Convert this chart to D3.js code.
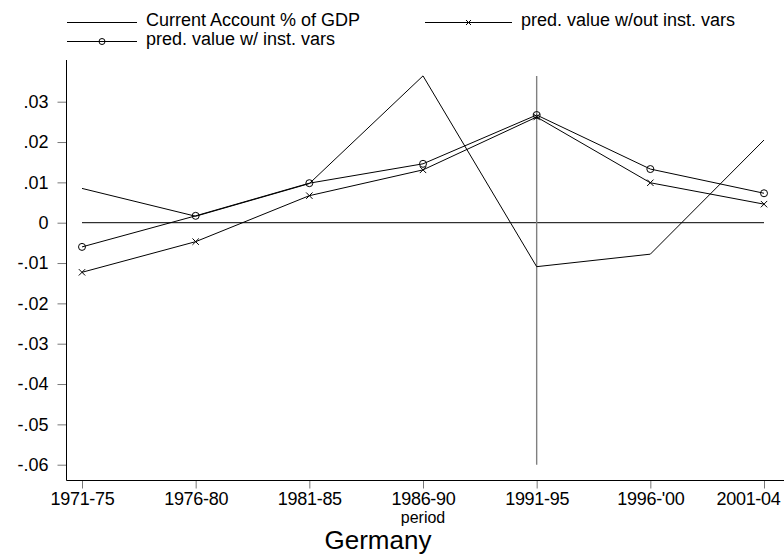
<!DOCTYPE html>
<html>
<head>
<meta charset="utf-8">
<script src="https://cdn.jsdelivr.net/npm/d3@7"></script>
<style>
  body { margin: 0; background: #fff; }
  text { font-family: Arial, "Liberation Sans", sans-serif; fill: #000; }
</style>
</head>
<body>
<div id="chart"></div>
<script>
// Data
const periods = ["1971-75", "1976-80", "1981-85", "1986-90", "1991-95", "1996-'00", "2001-04"];
const currentAccount = [0.0085, 0.0016, 0.0097, 0.0364, -0.0109, -0.0078, 0.0205];
const predNoInst = [-0.0123, -0.0047, 0.0067, 0.0131, 0.0262, 0.0099, 0.0046];
const predInst = [-0.0060, 0.0017, 0.0098, 0.0146, 0.0267, 0.0133, 0.0073];
const yTicks = [0.03, 0.02, 0.01, 0, -0.01, -0.02, -0.03, -0.04, -0.05, -0.06];
const markedPeriod = "1991-95";

const fullWidth = 784, fullHeight = 555;

const svg = d3.select("#chart")
    .append("svg")
    .attr("width", fullWidth)
    .attr("height", fullHeight);

// Scales
const x = d3.scalePoint()
    .domain(periods)
    .range([82, 764]);

const y = d3.scaleLinear()
    .domain([-0.06, 0.03])
    .range([464.7, 101.7]);

const axisX = 66.5, axisY = 480.5;

// Y axis (Stata style: ".03", "-.01")
const fmtY = d => d === 0 ? "0" : d3.format(".2f")(d).replace("\u2212", "-").replace("0.", ".");
const yAxis = svg.append("g")
    .attr("transform", `translate(${axisX},0)`)
    .call(d3.axisLeft(y)
        .tickValues(yTicks)
        .tickSize(9)
        .tickPadding(9)
        .tickFormat(fmtY));
yAxis.select(".domain").remove();
yAxis.selectAll(".tick line").attr("stroke", "#777");
yAxis.selectAll(".tick text").style("font-size", "18px").attr("font-family", null);
svg.append("line")
    .attr("x1", axisX).attr("x2", axisX)
    .attr("y1", 60).attr("y2", axisY)
    .attr("stroke", "#000");

// X axis
const xAxis = svg.append("g")
    .attr("transform", `translate(0,${axisY})`)
    .call(d3.axisBottom(x).tickSize(8).tickPadding(4));
xAxis.select(".domain").remove();
xAxis.selectAll(".tick line").attr("stroke", "#777");
xAxis.selectAll(".tick text")
    .style("font-size", "18px")
    .attr("font-family", null)
    .style("letter-spacing", "-0.3px");
// last label is pushed left so it stays inside the picture
xAxis.selectAll(".tick text")
    .filter(d => d === periods[periods.length - 1])
    .attr("text-anchor", "end")
    .attr("dx", 16);
svg.append("line")
    .attr("x1", axisX).attr("x2", fullWidth)
    .attr("y1", axisY).attr("y2", axisY)
    .attr("stroke", "#000");

// Axis title and graph title
svg.append("text")
    .attr("x", x("1986-90"))
    .attr("y", 523)
    .attr("text-anchor", "middle")
    .style("font-size", "16px")
    .text("period");

svg.append("text")
    .attr("x", 378)
    .attr("y", 549)
    .attr("text-anchor", "middle")
    .style("font-size", "26px")
    .text("Germany");

// Reference lines
const allValues = currentAccount.concat(predNoInst, predInst);
svg.append("line")
    .attr("x1", x(periods[0])).attr("x2", x(periods[periods.length - 1]))
    .attr("y1", y(0)).attr("y2", y(0))
    .attr("stroke", "#000");

svg.append("line")
    .attr("x1", x(markedPeriod)).attr("x2", x(markedPeriod))
    .attr("y1", y(d3.max(allValues))).attr("y2", y(-0.06))
    .attr("stroke", "#808080")
    .attr("stroke-width", 1.4);

// Lines
const line = d3.line()
    .x((d, i) => x(periods[i]))
    .y(d => y(d));

[currentAccount, predNoInst, predInst].forEach(series => {
    svg.append("path")
        .datum(series)
        .attr("fill", "none")
        .attr("stroke", "#000")
        .attr("stroke-width", 1)
        .attr("d", line);
});

// Markers
function drawCross(g, cx, cy, r) {
    g.append("path")
        .attr("d", `M${cx - r},${cy - r}L${cx + r},${cy + r}M${cx - r},${cy + r}L${cx + r},${cy - r}`)
        .attr("stroke", "#000")
        .attr("fill", "none");
}
function drawCircle(g, cx, cy, r) {
    g.append("circle")
        .attr("cx", cx).attr("cy", cy).attr("r", r)
        .attr("fill", "none")
        .attr("stroke", "#000");
}

const markers = svg.append("g");
predNoInst.forEach((d, i) => drawCross(markers, x(periods[i]), y(d), 3.2));
predInst.forEach((d, i) => drawCircle(markers, x(periods[i]), y(d), 3.5));

// Legend
const legend = svg.append("g");
const legendItems = [
    { label: "Current Account % of GDP", x1: 67, x2: 137, ly: 22.5, ty: 26, marker: null },
    { label: "pred. value w/out inst. vars", x1: 425, x2: 512, ly: 22.5, ty: 26, marker: "x" },
    { label: "pred. value w/ inst. vars", x1: 67, x2: 137, ly: 41.5, ty: 45, marker: "o" }
];
legendItems.forEach(d => {
    legend.append("line")
        .attr("x1", d.x1).attr("x2", d.x2)
        .attr("y1", d.ly).attr("y2", d.ly)
        .attr("stroke", "#000");
    const mx = (d.x1 + d.x2) / 2;
    if (d.marker === "x") drawCross(legend, mx, d.ly, 2.5);
    if (d.marker === "o") drawCircle(legend, mx, d.ly, 3);
    legend.append("text")
        .attr("x", d.x2 + 9)
        .attr("y", d.ty)
        .style("font-size", "18px")
        .text(d.label);
});
</script>
</body>
</html>
